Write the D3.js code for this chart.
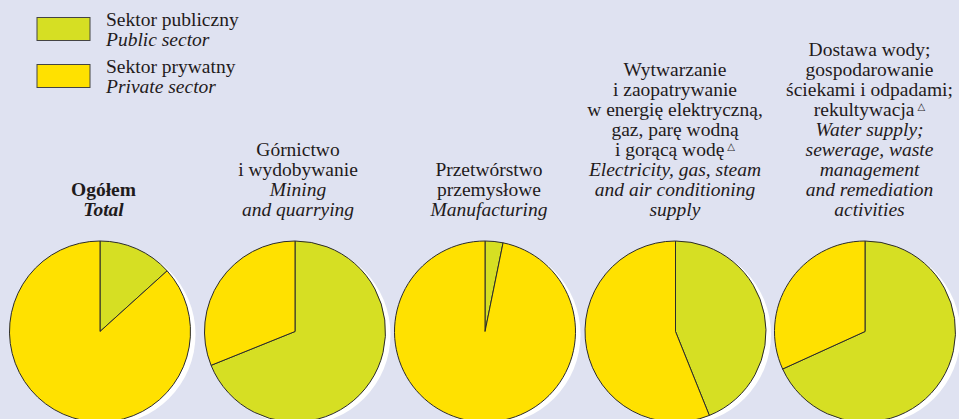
<!DOCTYPE html>
<html>
<head>
<meta charset="utf-8">
<script src="https://cdn.jsdelivr.net/npm/d3@7"></script>
<style>
  body { margin: 0; background: #dfe2f1; }
  text { font-family: "Liberation Serif", "Times New Roman", serif; fill: #1f1b1c; }
</style>
</head>
<body>
<div id="chart"></div>
<script>
// sections (Polish / English title lines)
let sections = ['total', 'mining', 'manufacturing', 'energy', 'water']
let titlesPl = [
  ['Ogółem'],
  ['Górnictwo', 'i wydobywanie'],
  ['Przetwórstwo', 'przemysłowe'],
  ['Wytwarzanie', 'i zaopatrywanie', 'w energię elektryczną,', 'gaz, parę wodną', 'i gorącą wodę△'],
  ['Dostawa wody;', 'gospodarowanie', 'ściekami i odpadami;', 'rekultywacja△']
]
let titlesEn = [
  ['Total'],
  ['Mining', 'and quarrying'],
  ['Manufacturing'],
  ['Electricity, gas, steam', 'and air conditioning', 'supply'],
  ['Water supply;', 'sewerage, waste', 'management', 'and remediation', 'activities']
]

// shares in %
let publicShare = [13.3, 68.9, 3.2, 43.9, 68.2]
let privateShare = [86.7, 31.1, 96.8, 56.1, 31.8]

let legendPl = ['Sektor publiczny', 'Sektor prywatny']
let legendEn = ['Public sector', 'Private sector']

let width = 959
let height = 419
let radius = 90.5
let cy = 331.5
let lineHeight = 20
let lastBaseline = 215.5

let svg = d3.select('#chart')
  .append('svg')
  .attr('width', width)
  .attr('height', height)

svg.append('rect')
  .attr('width', width)
  .attr('height', height)
  .attr('fill', '#dfe2f1')

let xScale = d3.scaleOrdinal()
  .domain(sections)
  .range([100, 295, 485, 675.5, 865])

let titleScale = d3.scaleOrdinal()
  .domain(sections)
  .range([103.5, 298, 489, 675, 869.5])

let colorScale = d3.scaleOrdinal()
  .domain(['public', 'private'])
  .range(['#d6df23', '#ffe100'])

let pie = d3.pie().sort(null).value(d => d.value)
let arc = d3.arc().innerRadius(0).outerRadius(radius)

sections.forEach((s, i) => {
  let g = svg.append('g')
    .attr('transform', 'translate(' + xScale(s) + ',' + cy + ')')

  // white shadow
  g.append('circle')
    .attr('cx', 5)
    .attr('cy', 3)
    .attr('r', radius)
    .attr('fill', '#fff')

  let slices = [
    { key: 'public', value: publicShare[i] },
    { key: 'private', value: privateShare[i] }
  ]

  g.selectAll('path')
    .data(pie(slices))
    .enter()
    .append('path')
    .attr('d', arc)
    .attr('fill', d => colorScale(d.data.key))
    .attr('stroke', '#2b2b2b')
    .attr('stroke-width', 1)
    .attr('stroke-linejoin', 'round')

  // titles, bottom-aligned
  let lines = titlesPl[i].map(t => ({ t, italic: false }))
    .concat(titlesEn[i].map(t => ({ t, italic: true })))
  let first = lastBaseline - (lines.length - 1) * lineHeight

  let text = svg.append('text')
    .attr('text-anchor', 'middle')
    .style('font-size', '19.5px')
    .style('font-weight', i === 0 ? 'bold' : 'normal')

  lines.forEach((l, j) => {
    let tspan = text.append('tspan')
      .attr('x', titleScale(s))
      .attr('y', first + j * lineHeight)
      .style('font-style', l.italic ? 'italic' : 'normal')
    if (l.t.endsWith('△')) {
      tspan.append('tspan').text(l.t.slice(0, -1))
      tspan.append('tspan')
        .attr('dy', -6)
        .attr('dx', 3)
        .style('font-size', '10px')
        .style('font-family', 'DejaVu Sans')
        .text('△')
    } else {
      tspan.text(l.t)
    }
  })
})

// legend
let legend = svg.append('g')
legend.selectAll('rect')
  .data(['public', 'private'])
  .enter()
  .append('rect')
  .attr('x', 37)
  .attr('y', (d, i) => 17.5 + i * 47)
  .attr('width', 53)
  .attr('height', 23)
  .attr('fill', d => colorScale(d))
  .attr('stroke', '#444')
  .attr('stroke-width', 1)

legendPl.forEach((t, i) => {
  legend.append('text')
    .attr('x', 106)
    .attr('y', 26 + i * 47)
    .style('font-size', '19.5px')
    .text(t)
  legend.append('text')
    .attr('x', 106)
    .attr('y', 45.5 + i * 47)
    .style('font-size', '19.5px')
    .style('font-style', 'italic')
    .text(legendEn[i])
})
</script>
</body>
</html>
